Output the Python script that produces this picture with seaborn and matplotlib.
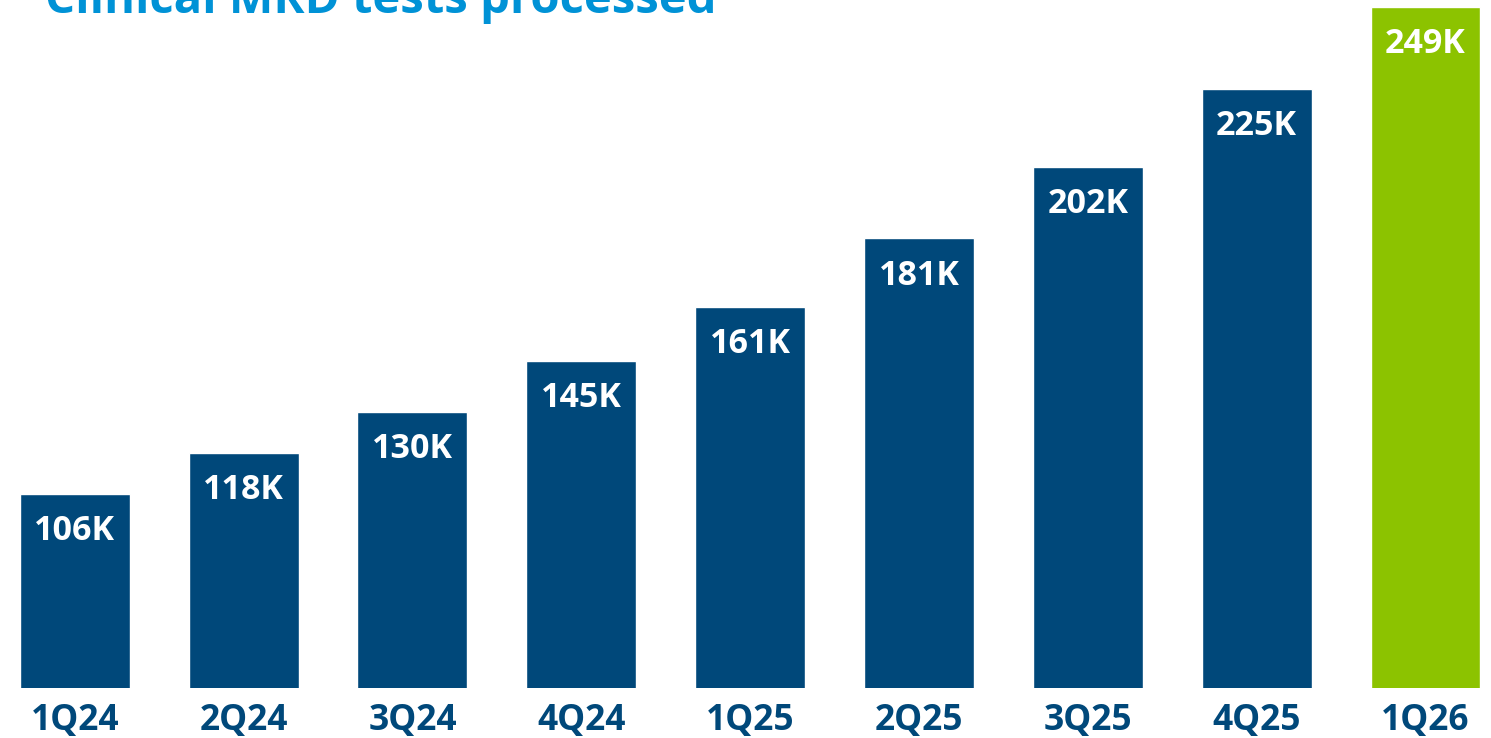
import matplotlib
matplotlib.use("Agg")
import matplotlib.pyplot as plt
import seaborn as sns
import pandas as pd

quarters = ["1Q24", "2Q24", "3Q24", "4Q24", "1Q25", "2Q25", "3Q25", "4Q25", "1Q26"]
tests_k = [106, 118, 130, 145, 161, 181, 202, 225, 249]
labels = ["106K", "118K", "130K", "145K", "161K", "181K", "202K", "225K", "249K"]
title = "Clinical MRD tests processed"

DARK = "#00487A"
GREEN = "#8CC300"
TITLE_C = "#0092D6"
colors = [DARK] * 8 + [GREEN]

sns.set_theme(style="white")
plt.rcParams["font.family"] = ["Open Sans", "DejaVu Sans"]

df = pd.DataFrame({"quarter": quarters, "tests": tests_k})

fig = plt.figure(figsize=(14.91, 7.38), dpi=100)
ax = fig.add_axes([0, 50 / 738, 1, 688 / 738])
sns.barplot(data=df, x="quarter", y="tests", hue="quarter", palette=colors,
            legend=False, width=0.651, saturation=1, ax=ax)
step = 168.85
ax.set_xlim(-74.7 / step, (1491 - 74.7) / step)
ax.set_ylim(49, 251)
for s in ax.spines.values():
    s.set_visible(False)
ax.set_yticks([])
ax.set_xlabel("")
ax.set_ylabel("")
ax.tick_params(axis="x", length=0, pad=11)
for t in ax.get_xticklabels():
    t.set_fontsize(25.5)
    t.set_fontweight("bold")
    t.set_color(DARK)

for i, (v, lab) in enumerate(zip(tests_k, labels)):
    ax.annotate(lab, (i, v), xytext=(0, -14.5), textcoords="offset points",
                ha="center", va="top", color="white", fontsize=24.5, fontweight="bold")

fig.text(45 / 1491, (738 - 13) / 738, title, ha="left", va="baseline",
         color=TITLE_C, fontsize=34, fontweight="bold")

fig.savefig("out.png", dpi=100)
